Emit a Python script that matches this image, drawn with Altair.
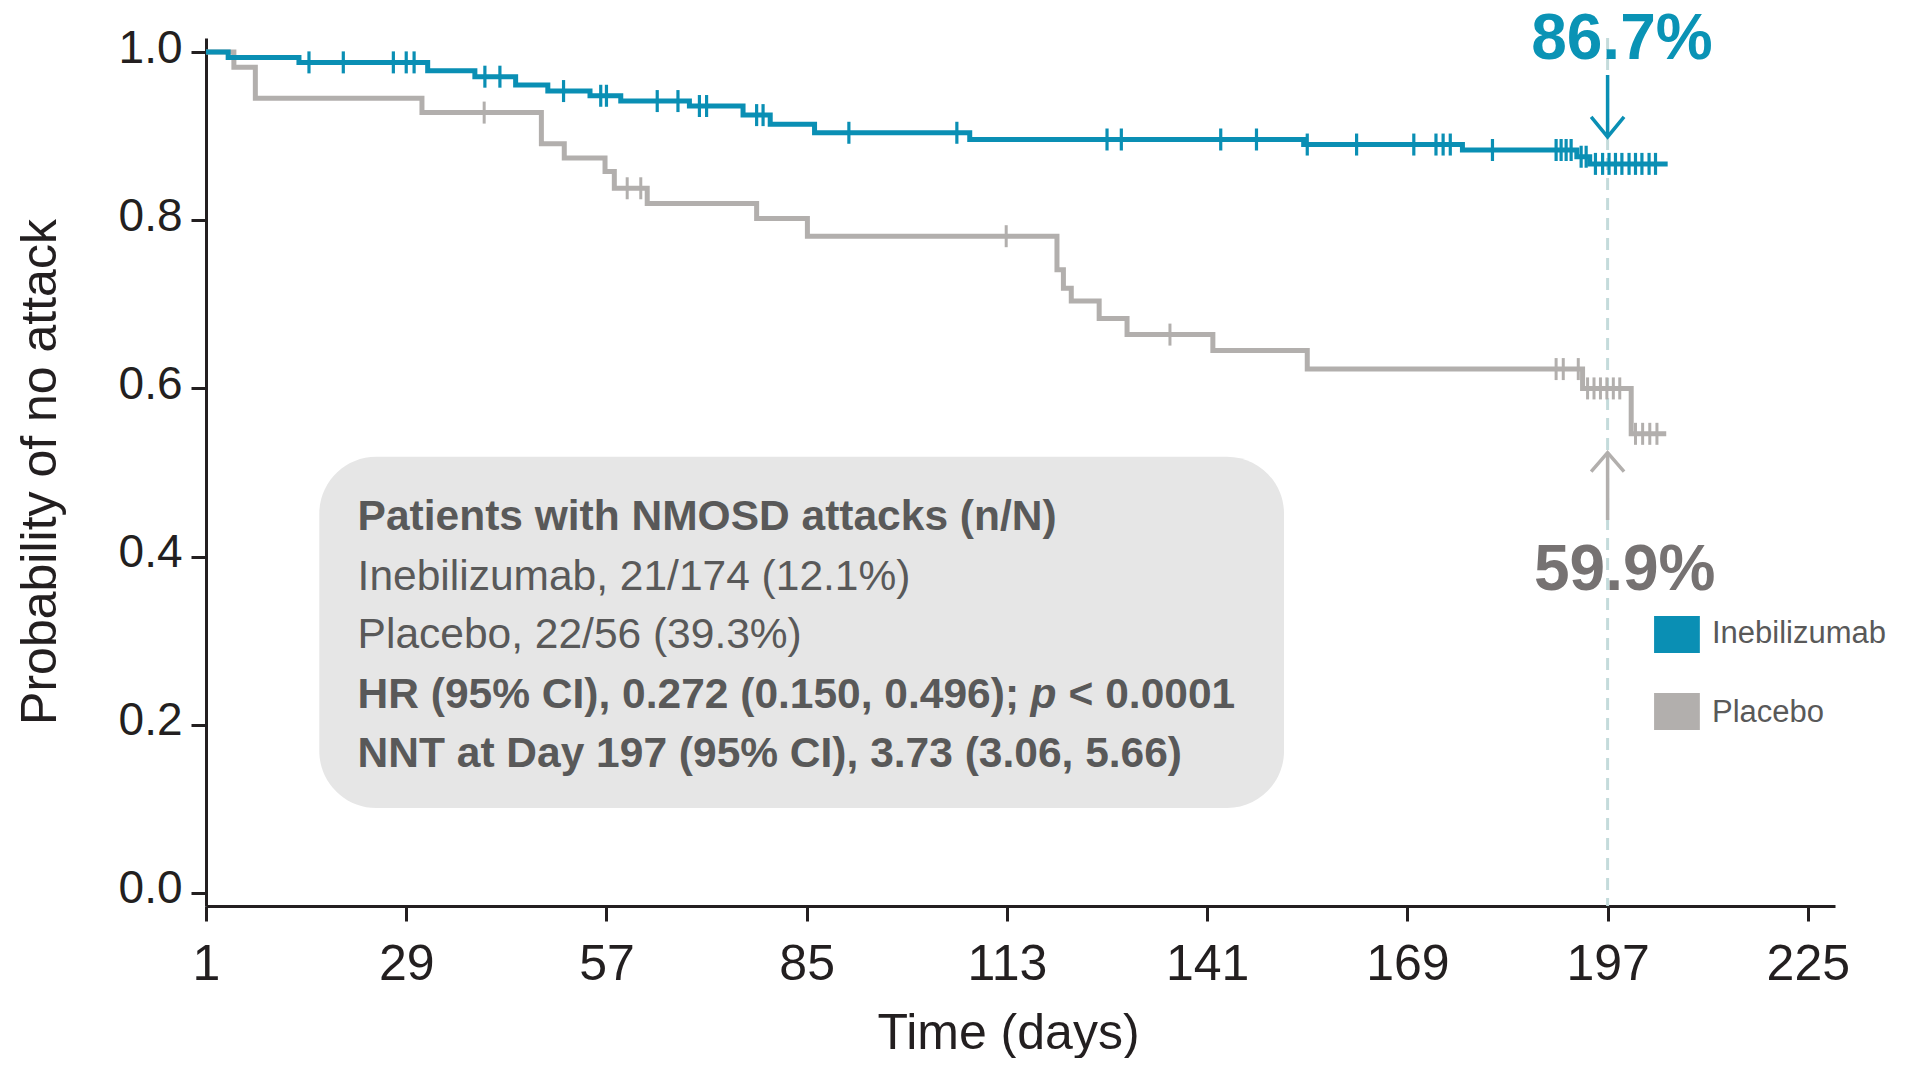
import altair as alt
import pandas as pd

FONT = "Liberation Sans, Arial, Helvetica, sans-serif"
TEAL = "#0a8fb4"
GRAY = "#b2afad"
AXIS = "#231f20"
TXT = "#595959"

# ---------------- data ----------------
teal_days = [4.1, 14.0, 32.0, 38.6, 44.3, 48.8, 54.7, 59.0, 68.6, 76.1, 79.9,
             86.1, 107.8, 154.5, 176.7, 192.7, 194.5]
teal_surv = [0.9935, 0.9877, 0.9778, 0.9707, 0.9608, 0.9536, 0.948, 0.9417, 0.9358,
             0.925, 0.914, 0.904, 0.896, 0.890, 0.8835, 0.8755, 0.867]
teal_end = 205.4
teal_censor = [15.4, 20.2, 27.2, 29.0, 30.1, 40.0, 42.1, 51.0, 56.2, 57.0, 64.1, 67.0,
               70.0, 71.0, 78.0, 78.9, 90.9, 106.0, 127.0, 129.0, 142.9, 147.9, 155.0,
               161.9, 169.9, 173.0, 174.0, 175.0, 180.9, 189.8, 190.5, 191.2, 191.9,
               193.3, 194.0, 195.3, 196.3, 197.2, 198.1, 199.0, 200.0, 200.9, 201.8,
               202.8, 203.7]

placebo_days = [4.9, 7.9, 31.2, 47.9, 51.1, 56.8, 58.1, 62.7, 78.0, 85.1, 120.0,
                120.9, 122.0, 125.9, 129.8, 141.8, 155.0, 193.5, 200.3]
placebo_surv = [0.982, 0.945, 0.928, 0.891, 0.874, 0.858, 0.838, 0.820, 0.802, 0.781,
                0.741, 0.719, 0.704, 0.683, 0.664, 0.645, 0.623, 0.600, 0.546]
placebo_end = 205.2
placebo_censor = [39.9, 59.9, 61.8, 112.9, 135.8, 189.8, 190.8, 192.9, 194.2, 195.1,
                  196.0, 196.9, 197.8, 198.7, 200.9, 201.9, 202.9, 203.9]

x_ticks = [1, 29, 57, 85, 113, 141, 169, 197, 225]
y_ticks = [0.0, 0.2, 0.4, 0.6, 0.8, 1.0]
ref_day = 197

box_lines_bold_top = ["Patients with NMOSD attacks (n/N)"]
box_lines_normal = ["Inebilizumab, 21/174 (12.1%)", "Placebo, 22/56 (39.3%)"]
hr_text = ["HR (95% CI), 0.272 (0.150, 0.496);", "p", "< 0.0001"]
nnt_text = ["NNT at Day 197 (95% CI), 3.73 (3.06, 5.66)"]

legend_labels = ["Inebilizumab", "Placebo"]
legend_colors = [TEAL, GRAY]
pct_labels = ["86.7%", "59.9%"]
pct_colors = ["#0a93b5", "#767272"]

# ---------------- helpers ----------------
def step_df(days, surv, end):
    return pd.DataFrame({"day": [1] + days + [end],
                         "surv": [1.0] + surv + [surv[-1]]})

def censor_df(censor, days, surv):
    ys = []
    for c in censor:
        v = 1.0
        for d, s in zip(days, surv):
            if d <= c:
                v = s
        ys.append(v)
    return pd.DataFrame({"day": censor, "surv": ys})

XD = [1, 228.8]
YD = [-0.0155, 1.0167]
xs = alt.Scale(domain=XD, nice=False, zero=False)
ys = alt.Scale(domain=YD, nice=False, zero=False)

xaxis = alt.Axis(values=x_ticks, format="d", title="Time (days)", grid=False,
                 labelFontSize=50, labelFont=FONT, labelColor=AXIS, labelPadding=18,
                 labelFlush=False, labelOverlap=False,
                 tickSize=15, tickWidth=3, tickColor=AXIS,
                 domainColor=AXIS, domainWidth=3,
                 titleFontSize=50, titleFont=FONT, titleFontWeight="normal",
                 titleColor=AXIS, titleX=802, titleY=142, titleBaseline="alphabetic",
                 titleAlign="center")
yaxis = alt.Axis(values=y_ticks, format=".1f", title="Probability of no attack",
                 grid=False, labelFontSize=46, labelFont=FONT, labelColor=AXIS,
                 labelPadding=9, labelOffset=-4, labelFlush=False, labelOverlap=False,
                 tickSize=15, tickWidth=3, tickColor=AXIS,
                 domainColor=AXIS, domainWidth=3,
                 titleFontSize=50, titleFont=FONT, titleFontWeight="normal",
                 titleColor=AXIS, titleX=-151, titleY=433.5, titleAngle=-90,
                 titleBaseline="alphabetic", titleAlign="center")

def X(f="day"):
    return alt.X(f"{f}:Q", scale=xs, axis=xaxis)

def Y(f="surv"):
    return alt.Y(f"{f}:Q", scale=ys, axis=yaxis)

# ---------------- annotation tables (data coordinates) ----------------
box_df = pd.DataFrame({"day": [16.84], "day2": [151.75], "surv": [0.5188], "surv2": [0.1010]})
txt_x = 22.2
bold_df = pd.DataFrame({"day": [txt_x, txt_x], "surv": [0.4316, 0.1502],
                        "t": box_lines_bold_top + nnt_text})
norm_df = pd.DataFrame({"day": [txt_x, txt_x], "surv": [0.3603, 0.2910],
                        "t": box_lines_normal})
hr1_df = pd.DataFrame({"day": [txt_x], "surv": [0.2196], "t": [hr_text[0]]})
hr2_df = pd.DataFrame({"day": [txt_x], "surv": [0.2196], "t": [hr_text[1]]})
hr3_df = pd.DataFrame({"day": [txt_x], "surv": [0.2196], "t": [hr_text[2]]})

dash_df = pd.DataFrame({"day": [ref_day], "surv": [YD[1]], "surv2": [YD[0]]})

teal_arrow = pd.DataFrame({
    "day": [ref_day, ref_day, 194.7, ref_day, 199.3],
    "surv": [0.9727, 0.8990, 0.9228, 0.8990, 0.9228],
    "seg": [0, 0, 1, 1, 1], "o": [0, 1, 0, 1, 2]})
gray_arrow = pd.DataFrame({
    "day": [ref_day, ref_day, 194.7, ref_day, 199.3],
    "surv": [0.4435, 0.5236, 0.5010, 0.5236, 0.5010],
    "seg": [0, 0, 1, 1, 1], "o": [0, 1, 0, 1, 2]})

pct_df = pd.DataFrame({"day": [199.0, 199.4], "surv": [0.9915, 0.3603],
                       "t": pct_labels, "c": pct_colors})

leg_rect = pd.DataFrame({"day": [203.5, 203.5], "day2": [209.9, 209.9],
                         "surv": [0.3294, 0.2378], "surv2": [0.2854, 0.1938],
                         "c": legend_colors})
leg_text = pd.DataFrame({"day": [211.6, 211.6], "surv": [0.2969, 0.2037],
                         "t": legend_labels})

# ---------------- layers ----------------
box = alt.Chart(box_df).mark_rect(cornerRadius=57, color="#e6e6e6").encode(
    x=X(), x2="day2", y=Y(), y2="surv2")

dash = alt.Chart(dash_df).mark_rule(color="#c4dbdb", strokeWidth=3,
                                    strokeDash=[12, 8]).encode(x=X(), y=Y(), y2="surv2")

gray_line = alt.Chart(step_df(placebo_days, placebo_surv, placebo_end)).mark_line(
    interpolate="step-after", color=GRAY, strokeWidth=5).encode(x=X(), y=Y())
gray_ticks = alt.Chart(censor_df(placebo_censor, placebo_days, placebo_surv)).mark_point(
    shape="M0,-1V1", filled=False, size=484, strokeWidth=3, color=GRAY,
    opacity=1).encode(x=X(), y=Y())

teal_line = alt.Chart(step_df(teal_days, teal_surv, teal_end)).mark_line(
    interpolate="step-after", color=TEAL, strokeWidth=5).encode(x=X(), y=Y())
teal_ticks = alt.Chart(censor_df(teal_censor, teal_days, teal_surv)).mark_point(
    shape="M0,-1V1", filled=False, size=484, strokeWidth=3.2, color=TEAL,
    opacity=1).encode(x=X(), y=Y())

arrow_t = alt.Chart(teal_arrow).mark_line(color=TEAL, strokeWidth=3.5).encode(
    x=X(), y=Y(), detail="seg:N", order="o:Q")
arrow_g = alt.Chart(gray_arrow).mark_line(color=GRAY, strokeWidth=3.5).encode(
    x=X(), y=Y(), detail="seg:N", order="o:Q")

pct = alt.Chart(pct_df).mark_text(font=FONT, fontSize=64, fontWeight="bold",
                                  align="center", baseline="alphabetic").encode(
    x=X(), y=Y(), text="t:N", color=alt.Color("c:N", scale=None))

bold_txt = alt.Chart(bold_df).mark_text(font=FONT, fontSize=42.5, fontWeight="bold",
                                        align="left", baseline="alphabetic",
                                        color=TXT).encode(x=X(), y=Y(), text="t:N")
norm_txt = alt.Chart(norm_df).mark_text(font=FONT, fontSize=42.5, fontWeight="normal",
                                        align="left", baseline="alphabetic",
                                        color=TXT).encode(x=X(), y=Y(), text="t:N")
hr1 = alt.Chart(hr1_df).mark_text(font=FONT, fontSize=42.5, fontWeight="bold",
                                  align="left", baseline="alphabetic",
                                  color=TXT).encode(x=X(), y=Y(), text="t:N")
hr2 = alt.Chart(hr2_df).mark_text(font=FONT, fontSize=42.5, fontWeight="bold",
                                  fontStyle="italic", align="left", baseline="alphabetic",
                                  color=TXT, dx=673).encode(x=X(), y=Y(), text="t:N")
hr3 = alt.Chart(hr3_df).mark_text(font=FONT, fontSize=42.5, fontWeight="bold",
                                  align="left", baseline="alphabetic",
                                  color=TXT, dx=711).encode(x=X(), y=Y(), text="t:N")

lrect = alt.Chart(leg_rect).mark_rect().encode(
    x=X(), x2="day2", y=Y(), y2="surv2", color=alt.Color("c:N", scale=None))
ltext = alt.Chart(leg_text).mark_text(font=FONT, fontSize=31, align="left",
                                      baseline="alphabetic", color=TXT).encode(
    x=X(), y=Y(), text="t:N")

chart = alt.layer(
    box, dash, gray_line, gray_ticks, teal_line, teal_ticks, arrow_t, arrow_g,
    pct, bold_txt, norm_txt, hr1, hr2, hr3, lrect, ltext
).properties(
    width=1629, height=868,
    autosize=alt.AutoSizeParams(type="none"),
    padding={"left": 198, "top": 30, "right": 62, "bottom": 152},
    background="white",
).configure(font=FONT).configure_view(strokeWidth=0)

chart.save("out.html", embed_options={"renderer": "svg", "actions": False})
